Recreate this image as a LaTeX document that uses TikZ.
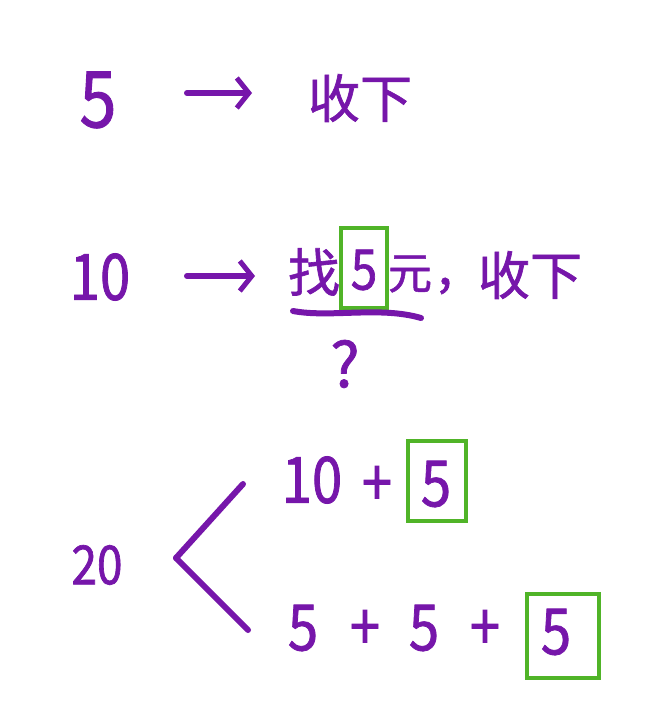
\documentclass[tikz,border=0pt]{standalone}
\usepackage{fontspec}
\newfontfamily\cjk[FakeBold=1.2]{Noto Sans CJK SC}
\newfontfamily\numf[FakeStretch=0.85,FakeBold=1.2]{Noto Sans CJK SC}
\usetikzlibrary{arrows.meta}
\definecolor{pp}{RGB}{118,22,170}
\definecolor{gg}{RGB}{80,180,40}
\begin{document}
\begin{tikzpicture}[x=1pt,y=-1pt,
  txt/.style={text=pp, inner sep=0pt, font=\cjk\fontsize{52}{52}\selectfont},
  num/.style={text=pp, inner sep=0pt, font=\numf\fontsize{64}{64}\selectfont},
  pen/.style={draw=pp, line width=6pt, line cap=round, line join=round},
  gbox/.style={draw=gg, line width=4.5pt, inner sep=0pt},
  arr/.style={pen, -{Straight Barb[length=12pt,width=30pt,line width=5pt]}}]
\useasboundingbox[fill=white] (0,0) rectangle (667,719);
% row 1
\node[num, font=\numf\fontsize{78}{78}\selectfont] (n5) at (98,100) {5};
\node[txt] (s1) at (360,98) {收下};
\coordinate (a1s) at (187,93);
\coordinate (a1e) at (252,93);
\draw[arr] (a1s) -- (a1e);
% row 2
\node[num] (n10) at (100,277) {10};
\coordinate (a2s) at (187,276);
\coordinate (a2e) at (255,276);
\draw[arr] (a2s) -- (a2e);
\node[txt] (zhao) at (314,272) {找};
\node[gbox, minimum width=46pt, minimum height=80pt] (b1) at (364,268) {};
\node[num, font=\numf\fontsize{56}{56}\selectfont] (f1) at (364,270) {5};
\node[txt, font=\cjk\fontsize{44}{44}\selectfont] (yuan) at (410,274) {元};
\node[txt] (comma) at (445,286) {,};
\node[txt] (s2) at (530,275) {收下};
\coordinate (u1) at (293,311);
\coordinate (u2) at (421,318);
\draw[pen] (u1) .. controls (330,318) and (380,306) .. (u2);
\node[txt, font=\cjk\fontsize{62}{62}\selectfont] (q) at (345,364) {?};
% row 3
\node[num, font=\numf\fontsize{54}{54}\selectfont] (n20) at (97,565) {20};
\coordinate (bt) at (176,558);
\coordinate (bu) at (243,484);
\coordinate (bd) at (248,630);
\draw[pen] (bt) -- (bu);
\draw[pen] (bt) -- (bd);
\node[num] (t10) at (312,480) {10};
\node[num] (tp) at (377,486) {+};
\node[gbox, minimum width=58pt, minimum height=80pt] (b2) at (437,481) {};
\node[num] (t5) at (436,484) {5};
\node[num] (d5a) at (303,628) {5};
\node[num] (dp1) at (365,630) {+};
\node[num] (d5b) at (424,628) {5};
\node[num] (dp2) at (485,630) {+};
\node[gbox, minimum width=72pt, minimum height=84pt] (b3) at (563,636) {};
\node[num] (d5c) at (556,632) {5};
\end{tikzpicture}
\end{document}
